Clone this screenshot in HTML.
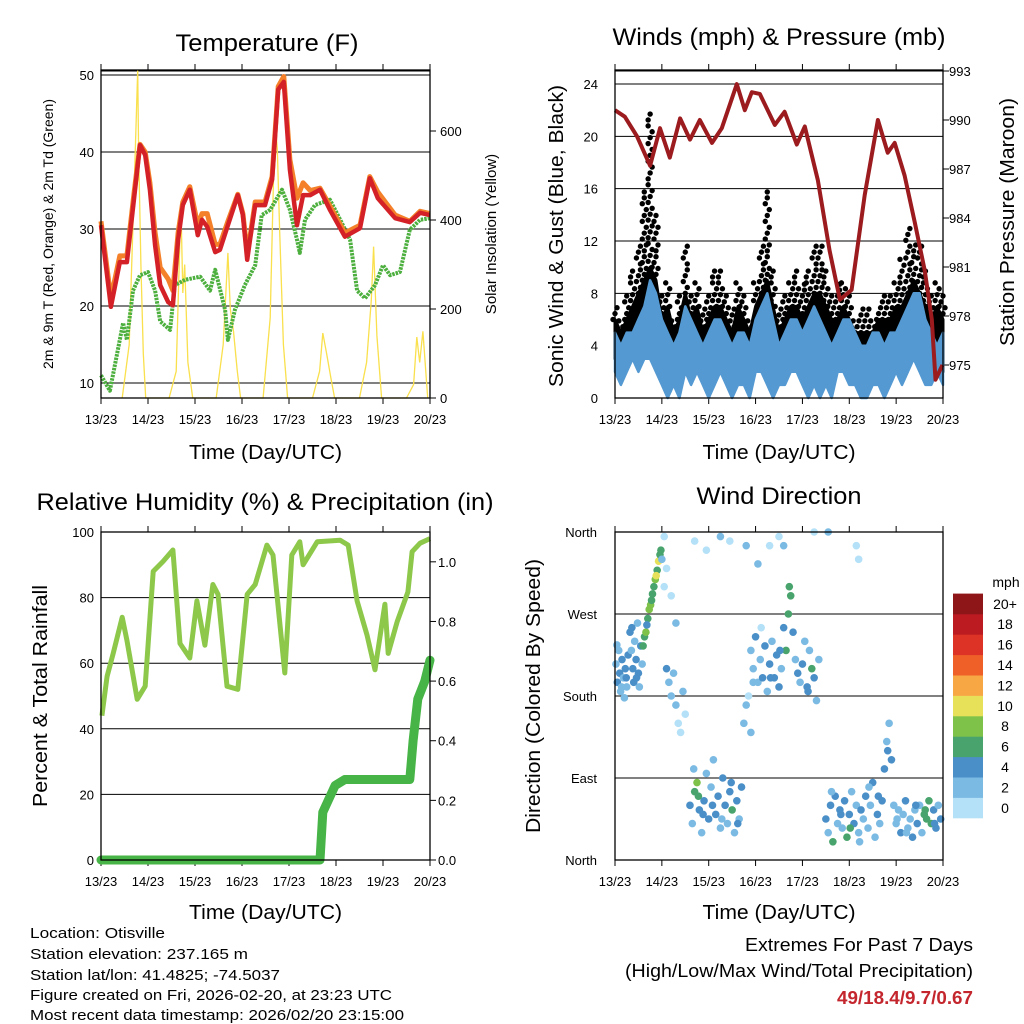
<!DOCTYPE html>
<html><head><meta charset="utf-8"><style>
body{margin:0;background:#fff}
svg{display:block;font-family:"Liberation Sans",sans-serif}
</style></head><body>
<svg id="fig" width="1024" height="1024" viewBox="0 0 1024 1024">
<rect width="1024" height="1024" fill="#fff"/>
<g id="layer"></g>
<g font-size="15" fill="#000">
<text x="30" y="938" textLength="135" lengthAdjust="spacingAndGlyphs">Location: Otisville</text>
<text x="30" y="959" textLength="218" lengthAdjust="spacingAndGlyphs">Station elevation: 237.165 m</text>
<text x="30" y="980" textLength="250" lengthAdjust="spacingAndGlyphs">Station lat/lon: 41.4825; -74.5037</text>
<text x="30" y="1000" textLength="362" lengthAdjust="spacingAndGlyphs">Figure created on Fri, 2026-02-20, at 23:23 UTC</text>
<text x="30" y="1020" textLength="374" lengthAdjust="spacingAndGlyphs">Most recent data timestamp: 2026/02/20 23:15:00</text>
</g>
<g>
<text x="745" y="951" font-size="18" textLength="228" lengthAdjust="spacingAndGlyphs">Extremes For Past 7 Days</text>
<text x="625" y="977" font-size="18" textLength="348" lengthAdjust="spacingAndGlyphs">(High/Low/Max Wind/Total Precipitation)</text>
<text x="837" y="1004" font-size="18" font-weight="bold" fill="#c4262e" textLength="136" lengthAdjust="spacingAndGlyphs">49/18.4/9.7/0.67</text>
</g>
</svg>
<script>
// ---------- DATA ----------
const dayLabels=["13/23","14/23","15/23","16/23","17/23","18/23","19/23","20/23"];
const tempTicks=[10,20,30,40,50];
const solarTicks=[0,200,400,600];
const windTicks=[0,4,8,12,16,20,24];
const presTicks=[975,978,981,984,987,990,993];
const rhTicks=[0,20,40,60,80,100];
const rainTicks=["0.0","0.2","0.4","0.6","0.8","1.0"];
const dirLabels=["North","East","South","West","North"];
const speedLabels=["0","2","4","6","8","10","12","14","16","18","20+"];
const speedColors=["#b4e1f7","#7bbae3","#4a8fc7","#48a46c","#7ec24a","#e7e15a","#f7a845","#ef6029","#dd3326","#bc1b22","#8e1518"];

const t2Times=[0,.21,.40,.55,.70,.83,.94,1.04,1.15,1.26,1.43,1.53,1.64,1.74,1.89,2.06,2.15,2.26,2.43,2.53,2.70,2.91,3.02,3.11,3.17,3.28,3.49,3.64,3.77,3.89,4.02,4.17,4.30,4.45,4.66,4.87,5.19,5.51,5.72,5.89,6.26,6.57,6.79,7.0];
const t2Vals=[30.5,19.9,25.7,25.7,33.8,40.9,39.6,35.1,27.9,22.7,20.5,20.1,28.6,33.1,35.1,29.2,31.2,30.3,27.0,27.3,30.5,34.4,31.8,26.0,28.6,33.1,33.1,36.4,48.1,49.1,37.7,30.5,34.4,34.4,35.1,32.5,29.0,30.1,36.6,34.0,31.4,30.9,32.1,31.8];
const t9Vals=[31,21,26.5,26.5,34.5,41,40,36,29.5,25,23.5,22,29.5,33.5,35.5,30.5,32,32,28,28,31,34.5,32,27,29,33.5,33.5,36.8,48.5,49.8,39,34,36,35,35.3,33,29.5,30.5,36.8,34.8,31.8,31,32.3,32];
const tdTimes=[0,.19,.47,.55,.68,.83,1.0,1.15,1.26,1.47,1.57,1.79,2.11,2.32,2.43,2.64,2.70,2.85,3.06,3.28,3.42,3.60,3.85,4.02,4.17,4.23,4.34,4.55,4.87,5.09,5.30,5.45,5.62,5.83,6.0,6.15,6.36,6.57,6.79,7.0];
const tdVals=[11,9,17.8,15.6,22,24,24.4,22,18,16.9,22.7,23.4,23.8,22,24.7,19.5,15.6,19.5,22.7,25.3,31.8,32.5,35.1,32.5,28.6,26.9,31.2,33.1,33.8,31.2,28.6,22,21,22.7,25.3,24,24.4,29.9,31.2,31.4];
const solarTimes=[0.45,0.6,0.72,0.78,0.8,0.85,0.9,0.95, 1.45,1.6,1.7,1.74,1.78,1.85,1.95, 2.45,2.6,2.7,2.75,2.82,2.9,2.97, 3.45,3.6,3.7,3.75,3.8,3.88,3.97, 4.5,4.65,4.72,4.8,4.9,4.97, 5.5,5.65,5.75,5.8,5.87,5.97, 6.5,6.65,6.72,6.78,6.85,6.95];
const solarVals=[0,120,520,737,560,300,100,0, 0,60,438,236,300,80,0, 0,120,326,200,150,60,0, 0,180,625,560,380,120,0, 0,60,146,100,40,0, 0,80,220,340,140,0, 0,30,137,80,150,0];

const presTimes=[0,.21,.47,.75,.96,1.17,1.39,1.60,1.81,2.07,2.28,2.60,2.77,2.92,3.09,3.41,3.62,3.88,4.05,4.33,4.58,4.80,5.05,5.33,5.61,5.82,5.97,6.18,6.40,6.61,6.76,6.84,6.99];
const presVals=[990.6,990.2,989.0,987.2,989.5,987.7,990.1,988.8,990.0,988.6,989.5,992.2,990.6,991.7,991.6,989.7,990.5,988.5,989.6,986.3,982.0,979.0,979.6,985.4,990.0,988.0,988.6,986.6,983.7,980.8,977.8,974.1,975.0];
const gustVals=[7,6,8,10,12,16,22,14,8,9,6,8,12,8,9,7,8,10,10,8,7,9,8,6,9,12,16,10,7,8,9,10,9,10,12,12,10,8,9,9,8,6,7,7,6,7,8,8,9,11,13,12,12,10,8,9,8];
const gustBody=[6,5,6,7,8,9,10,9,6,7,5,6,8,6,7,5,6,7,7,6,5,7,6,5,7,8,9,7,5,6,7,7,6,7,8,8,7,6,6,7,6,5,5,5,5,6,6,6,7,7,8,9,8,7,6,7,6];
const windHi=[5,4,5,5,6,7,9,8,6,5,4,5,7,6,5,4,5,6,6,5,4,5,5,4,6,7,8,6,4,5,6,6,5,6,7,6,5,4,5,6,6,5,4,4,5,5,4,5,5,6,7,8,8,6,5,4,5];
const windLo=[2,1,2,3,2,3,3,2,1,0,1,0,2,1,2,1,0,1,2,1,0,1,1,0,2,2,1,0,1,1,2,2,1,0,1,0,1,0,2,2,1,1,0,0,1,1,0,1,2,1,2,3,2,1,1,2,1];

const rhTimes=[.02,.13,.26,.45,.55,.77,.94,1.11,1.32,1.53,1.68,1.89,2.04,2.21,2.38,2.49,2.68,2.91,3.11,3.28,3.53,3.66,3.91,4.06,4.23,4.30,4.60,5.09,5.26,5.45,5.66,5.83,6.04,6.11,6.30,6.53,6.62,6.79,7.0];
const rhVals=[44,56,63,74,67,49,53,88,91,94.5,66,61.6,79,65.5,84,81,53,52,81,84,96,93,57,93,97,90,97,97.5,96,79,68.6,58,78,63,72.6,81.7,94,96.6,98];
const rainTimes=[0,4.66,4.72,4.98,5.19,6.57,6.64,6.74,6.89,7.0];
const rainVals=[0,0,.16,.25,.27,.27,.4,.54,.6,.67];

const dirT=[.02,.05,.08,.1,.12,.15,.18,.2,.22,.25,.28,.04,.14,.24,
.32,.35,.38,.4,.42,.45,.48,.5,.52,.55,.58,.36,.46,
.6,.63,.66,.7,.73,.76,.8,.83,.86,.9,.93,.96,.98,.68,.78,.88,
1.0,1.05,1.1,1.15,1.2,1.25,1.3,1.35,1.4,1.05,1.1,1.2,1.3,1.45,1.5,
1.6,1.65,1.7,1.75,1.8,1.85,1.9,1.95,2.0,2.05,2.1,2.15,2.2,2.25,2.3,2.35,2.4,2.45,2.5,2.55,2.6,2.65,2.7,1.68,1.78,1.88,2.08,2.28,2.48,2.62,
2.75,2.8,2.85,2.9,2.95,
2.9,2.95,3.0,3.05,3.1,3.15,3.2,3.25,3.3,3.35,3.4,3.45,3.5,3.55,3.6,3.65,3.7,3.75,3.8,3.85,3.9,3.95,4.0,4.05,4.1,4.15,4.2,4.25,4.3,4.35,3.12,3.32,3.52,3.72,4.12,
4.5,4.55,4.6,4.65,4.7,4.75,4.8,4.85,4.9,4.95,5.0,5.05,5.1,5.15,5.2,5.25,5.3,5.35,5.4,5.45,5.5,5.55,5.6,5.65,5.7,5.75,5.8,5.85,5.9,5.95,6.0,6.05,6.1,6.15,6.2,6.25,6.3,6.35,6.4,6.45,6.5,6.55,6.6,6.65,6.7,6.75,6.8,6.85,6.9,6.95,4.62,4.82,5.02,5.22,5.42,5.62,5.82,6.02,6.22,6.42,6.62,6.82,
1.7,1.95,2.25,2.45,2.8,3.05,3.3,3.5,3.6,4.25,4.55,5.15,5.2];
const dirD=[215,195,230,205,185,220,200,178,210,190,225,236,190,200,
250,230,210,195,240,220,260,205,190,235,215,255,200,
235,245,250,265,275,280,292,300,308,318,328,335,340,258,285,312,
330,300,210,195,180,205,170,150,140,355,320,290,260,185,160,
60,40,75,85,55,30,65,95,45,80,110,50,70,35,90,60,40,75,55,30,65,45,80,100,70,50,60,45,85,40,
150,170,180,140,195,
230,210,245,195,220,200,235,185,215,240,200,225,190,210,255,230,270,290,250,220,205,195,215,240,190,230,210,200,175,220,255,200,230,300,185,
45,30,60,20,70,40,55,35,65,25,50,75,40,60,30,55,45,70,35,60,85,25,50,40,65,100,130,150,110,60,40,55,30,50,65,35,45,25,55,40,60,30,50,45,65,40,55,35,60,45,75,50,35,20,80,70,120,45,30,60,55,40,
350,340,355,350,345,325,345,355,345,360,360,345,330];
const dirS=[3,4,3,4,2,4,3,2,4,3,4,2,3,4,
4,3,4,4,2,4,3,4,3,4,2,4,4,
6,7,8,7,8,8,7,6,8,7,10,7,6,4,6,10,
2,1,4,2,3,2,2,1,1,1,1,1,2,2,1,
4,3,6,8,4,3,4,2,4,3,2,4,5,3,4,4,2,4,6,3,4,2,4,2,6,4,4,2,4,5,
2,2,1,2,2,
2,3,4,2,3,4,4,2,5,3,4,5,4,3,4,6,7,6,4,3,4,2,4,3,4,2,6,4,2,3,1,4,4,7,4,
4,2,4,6,4,3,4,2,4,6,4,2,4,3,2,4,2,4,3,2,4,3,4,2,4,4,2,3,4,2,3,2,4,2,4,2,3,4,2,4,3,2,6,6,7,6,4,4,3,4,2,4,6,2,2,4,4,2,2,4,6,4,
1,1,2,1,2,3,1,1,2,1,2,1,1];

// ---------- DRAWING ----------
const NS="http://www.w3.org/2000/svg";
const layer=document.getElementById('layer');
function mk(tag,attrs,parent){const e=document.createElementNS(NS,tag);for(const k in attrs)e.setAttribute(k,attrs[k]);(parent||layer).appendChild(e);return e;}
function txt(x,y,s,size,anchor,parent,rot,len){const e=mk('text',{x:x,y:y,'font-size':size,'text-anchor':anchor||'middle'},parent);if(len){e.setAttribute('textLength',len);e.setAttribute('lengthAdjust','spacingAndGlyphs');}if(rot)e.setAttribute('transform','rotate('+rot+' '+x+' '+y+')');e.textContent=s;return e;}
function lin(d0,d1,r0,r1){return v=>r0+(v-d0)/(d1-d0)*(r1-r0);}
function path(xs,ys){return xs.map((x,i)=>(i?'L':'M')+x.toFixed(1)+','+ys[i].toFixed(1)).join('');}

function frame(g,x0,y0,w,h,bottomLabelY,titleY){
  const sx=lin(0,7,x0,x0+w);
  for(let i=0;i<dayLabels.length;i++){
    const x=sx(i);
    const tk=mk('line',{x1:x,x2:x,y1:y0-6,y2:y0,stroke:'#000','stroke-width':1},g);
    
    const tb=mk('line',{x1:x,x2:x,y1:y0+h,y2:y0+h+6,stroke:'#000','stroke-width':1},g);
    
    const t=txt(x,bottomLabelY,dayLabels[i],13,'middle',g);
    
  }
  const xt=txt(x0+w/2,titleY,'Time (Day/UTC)',20,'middle',g,0,153);
  
  return sx;
}
function box(g,x0,y0,w,h){const b=mk('rect',{x:x0,y:y0,width:w,height:h,fill:'none',stroke:'#000','stroke-width':1.3},g);}
function grid(g,x0,w,y){const l=mk('line',{x1:x0,x2:x0+w,y1:y,y2:y,stroke:'#000','stroke-width':1},g);}

// Panel 1: temperature
(function(){
 const g=mk('g',{});
 const X0=101,Y0=70,W=329,H=328;
 const sx=frame(g,X0,Y0,W,H,424,459);
 const sy=lin(10,50,383,75), ss=lin(0,200,398,309);
 tempTicks.forEach(v=>{grid(g,X0,W,sy(v));const t=txt(94,sy(v)+5,String(v),13,'end',g);});
 grid(g,X0,W,71);
 solarTicks.forEach(v=>{const y=ss(v);mk('line',{x1:X0+W,x2:X0+W+6,y1:y,y2:y,stroke:'#000'},g);const t=txt(440,y+5,String(v),13,'start',g);});
 const so=mk('path',{d:path(solarTimes.map(sx),solarVals.map(ss)),fill:'none',stroke:'#f9e04c','stroke-width':1.3},g);
 
 const td=mk('path',{d:path(tdTimes.map(sx),tdVals.map(sy)),fill:'none',stroke:'#4caf3e','stroke-width':4,'stroke-dasharray':'2.5 1','stroke-linejoin':'round'},g);
 
 const o=mk('path',{d:path(t2Times.map(sx),t9Vals.map(sy)),fill:'none',stroke:'#f4802a','stroke-width':5,'stroke-linejoin':'round'},g);
 
 const r=mk('path',{d:path(t2Times.map(sx),t2Vals.map(sy)),fill:'none',stroke:'#d42127','stroke-width':4.5,'stroke-linejoin':'round'},g);
 
 box(g,X0,Y0,W,H);
 const tt=txt(267,51,'Temperature (F)',24,'middle',g,0,183);
 const yl=txt(53,234,'2m & 9m T (Red, Orange) & 2m Td (Green)',14,'middle',g,-90);
 const yr=txt(496,234,'Solar Insolation (Yellow)',15,'middle',g,-90);
})();

// Panel 2: winds & pressure
(function(){
 const g=mk('g',{});
 const X0=615,Y0=70,W=328,H=328;
 const sx=frame(g,X0,Y0,W,H,424,459);
 const sy=lin(0,24,398,84), sp=lin(975,993,365,71);
 windTicks.forEach(v=>{grid(g,X0,W,sy(v));const t=txt(598,sy(v)+5,String(v),13,'end',g);});
 grid(g,X0,W,71);
 presTicks.forEach(v=>{const y=sp(v);mk('line',{x1:X0+W,x2:X0+W+6,y1:y,y2:y,stroke:'#000'},g);const t=txt(949,y+5,String(v),13,'start',g);});
 const ts=gustVals.map((v,i)=>i*0.125);
 const xs=ts.map(sx);
 const bk=mk('path',{d:path(xs.concat(xs.slice().reverse()),gustBody.map(sy).concat(windLo.map(v=>sy(v+1)).reverse()))+'Z',fill:'#000',stroke:'#000','stroke-width':3,'stroke-linejoin':'round'},g);
 
 gustVals.forEach((v,i)=>{
   for(let s=gustBody[i];s<=v+0.01;s+=0.45){
     const c=mk('circle',{cx:xs[i]+((Math.round(s*2))%3-1)*2,cy:sy(s),r:2.7,fill:'#000'},g);
     
   }
 });
 const bl=mk('path',{d:path(xs.concat(xs.slice().reverse()),windHi.map(sy).concat(windLo.map(sy).reverse()))+'Z',fill:'#5499d1',stroke:'#5499d1','stroke-width':2.5,'stroke-linejoin':'round'},g);
 
 const pr=mk('path',{d:path(presTimes.map(sx),presVals.map(sp)),fill:'none',stroke:'#9b1b1e','stroke-width':4,'stroke-linejoin':'round'},g);
 
 box(g,X0,Y0,W,H);
 const tt=txt(779,45,'Winds (mph) & Pressure (mb)',24,'middle',g,0,333);
 const yl=txt(563,236,'Sonic Wind & Gust (Blue, Black)',20,'middle',g,-90,302);
 const yr=txt(1014,222,'Station Pressure (Maroon)',20,'middle',g,-90,248);
})();

// Panel 3: RH & precip
(function(){
 const g=mk('g',{});
 const X0=101,Y0=532,W=329,H=328;
 const sx=frame(g,X0,Y0,W,H,886,919);
 const sy=lin(0,100,860,532), sr=lin(0,1.1,860,532);
 rhTicks.forEach(v=>{grid(g,X0,W,sy(v));const t=txt(94,sy(v)+5,String(v),13,'end',g);});
 rainTicks.forEach(s=>{const y=sr(parseFloat(s));mk('line',{x1:X0+W,x2:X0+W+6,y1:y,y2:y,stroke:'#000'},g);const t=txt(438,y+5,s,13,'start',g);});
 const rh=mk('path',{d:path(rhTimes.map(sx),rhVals.map(sy)),fill:'none',stroke:'#8dc84b','stroke-width':5,'stroke-linejoin':'round'},g);
 
 const rn=mk('path',{d:path(rainTimes.map(sx),rainVals.map(sr)),fill:'none',stroke:'#46b446','stroke-width':9,'stroke-linejoin':'round','stroke-linecap':'round'},g);
 
 box(g,X0,Y0,W,H);
 const tt=txt(265,510,'Relative Humidity (%) & Precipitation (in)',24,'middle',g,0,457);
 const yl=txt(47,696,'Percent & Total Rainfall',20,'middle',g,-90,222);
})();

// Panel 4: wind direction
(function(){
 const g=mk('g',{});
 const X0=615,Y0=532,W=328,H=328;
 const sx=frame(g,X0,Y0,W,H,886,919);
 const sy=lin(0,360,860,532);
 dirLabels.forEach((s,i)=>{const y=sy(i*90);grid(g,X0,W,y);const t=txt(597,y+5,s,13,'end',g);});
 dirT.forEach((t,i)=>{const c=mk('circle',{cx:sx(t),cy:sy(dirD[i]),r:3.8,fill:speedColors[Math.min(10,Math.floor(dirS[i]/2))]},g);});
 box(g,X0,Y0,W,H);
 const tt=txt(779,504,'Wind Direction',24,'middle',g,0,165);
 const yl=txt(540,696,'Direction (Colored By Speed)',20,'middle',g,-90,274);
 const cb=mk('g',{},g);
 const bh=20.4;
 speedColors.forEach((c,i)=>{const y=818-(i+1)*bh;const r=mk('rect',{x:953,y:y,width:30,height:bh+0.3,fill:c},cb);const t=txt(1005,y+bh/2+5,speedLabels[i],14,'middle',cb);});
 const u=txt(1006,587,'mph',14,'middle',cb);
})();
</script>
</body></html>
